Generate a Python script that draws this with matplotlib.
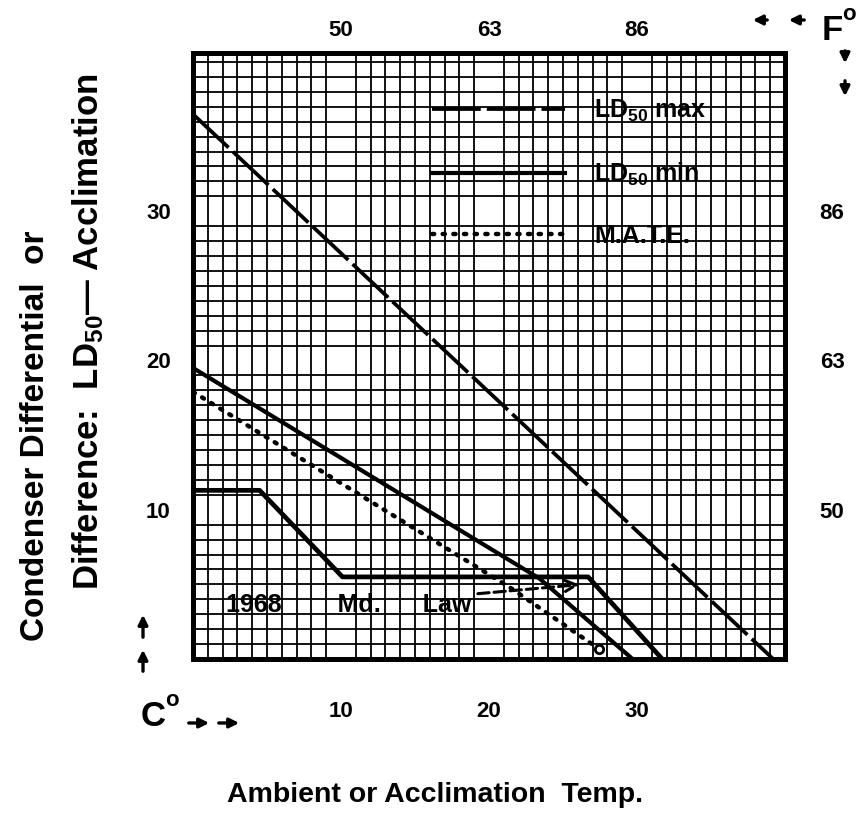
import matplotlib
matplotlib.use('Agg')
import matplotlib.pyplot as plt

# bold sans everywhere, also for the LD50 subscripts
plt.rcParams['font.family'] = ['Liberation Sans', 'DejaVu Sans']
plt.rcParams['font.weight'] = 'bold'
plt.rcParams['mathtext.fontset'] = 'custom'
plt.rcParams['mathtext.rm'] = 'Liberation Sans:bold'
plt.rcParams['mathtext.bf'] = 'Liberation Sans:bold'
plt.rcParams['mathtext.it'] = 'Liberation Sans:bold'

# values (x = ambient / acclimation temp, C)
ld50_max_x = [0, 39.2]
ld50_max_y = [36.5, 0]
ld50_min_x = [0, 23.4, 29.7]
ld50_min_y = [19.5, 5.4, 0]
mate_x = [0, 21.4, 27.4]
mate_y = [17.9, 4.8, 0.7]
law_x = [0, 4.5, 10.1, 26.7, 31.7]
law_y = [11.3, 11.3, 5.5, 5.5, 0]

c_ticks = [10, 20, 30]
c_labels = ['10', '20', '30']
f_top_labels = ['50', '63', '86']
diff_ticks = [10, 20, 30]
diff_labels = ['10', '20', '30']
f_right_labels = ['50', '63', '86']

W, H = 861, 830
fig = plt.figure(figsize=(W / 100, H / 100), dpi=100)
ax = fig.add_axes([193 / W, 1 - 659 / H, 592 / W, 606 / H])

ax.set_xlim(0, 40)
ax.set_ylim(0, 40.6)

# graph paper: a line on every unit
ax.set_xticks(range(0, 41), minor=True)
ax.set_yticks(range(0, 41), minor=True)
ax.grid(which='minor', color='black', lw=1.3)
ax.set_axisbelow(True)
for s in ax.spines.values():
    s.set_linewidth(3.6)

ax.set_xticks(c_ticks)
ax.set_xticklabels(c_labels)
ax.set_yticks(diff_ticks)
ax.set_yticklabels(diff_labels)
ax.tick_params(which='both', length=0)
ax.tick_params(axis='x', pad=30, labelsize=16)
ax.tick_params(axis='y', pad=16, labelsize=16)

# Fahrenheit labels on top and right
ax_top = ax.twiny()
ax_top.set_xlim(ax.get_xlim())
ax_top.set_xticks(c_ticks)
ax_top.set_xticklabels(f_top_labels)
ax_top.tick_params(length=0, pad=9, labelsize=16)
ax_right = ax.twinx()
ax_right.set_ylim(ax.get_ylim())
ax_right.set_yticks(diff_ticks)
ax_right.set_yticklabels(f_right_labels)
ax_right.tick_params(length=0, pad=25, labelsize=16)
for a in (ax_top, ax_right):
    for s in a.spines.values():
        s.set_visible(False)

# curves
ax.plot(ld50_max_x, ld50_max_y, color='black', lw=2.7, dashes=(13, 1.6),
        label='LD$_{50}$ max', solid_capstyle='butt')
ax.plot(ld50_min_x, ld50_min_y, color='black', lw=3, label='LD$_{50}$ min')
ax.plot(mate_x, mate_y, color='black', lw=3.2, dashes=(0.5, 1.9),
        dash_capstyle='round', label='M.A.T.E.')
ax.plot(mate_x[-1], mate_y[-1], 'o', ms=6, mfc='white', mec='black', mew=2,
        clip_on=False)
ax.plot(law_x, law_y, color='black', lw=3.4)

ax.annotate('1968        Md.      Law', xy=(26.3, 5.0), xytext=(2.2, 3.6),
            ha='left', va='center', fontsize=18,
            arrowprops=dict(arrowstyle='->', color='black', lw=2.2,
                            linestyle='--', mutation_scale=20, shrinkA=3))

ax.legend(loc='upper left', bbox_to_anchor=(432 / W, 1 - 98 / H),
          bbox_transform=fig.transFigure, frameon=False, borderpad=0,
          borderaxespad=0, handlelength=5.3, handletextpad=1.2,
          labelspacing=1.45, prop={'size': 18, 'weight': 'bold'})

# axis titles
fig.text(36 / W, 1 - 436 / H, 'Condenser Differential  or', rotation=90,
         ha='center', va='center', fontsize=24)
fig.text(88 / W, 1 - 332 / H, 'Difference:  LD$_{50}$— Acclimation',
         rotation=90, ha='center', va='center', fontsize=25)
fig.text(435 / W, 1 - 795 / H, 'Ambient or Acclimation  Temp.',
         ha='center', va='center', fontsize=20.5)

# unit markers with their little arrows
fig.text(153 / W, 1 - 716 / H, 'C', ha='center', va='center', fontsize=25)
fig.text(172 / W, 1 - 700 / H, 'o', ha='center', va='center', fontsize=16)
fig.text(832 / W, 1 - 30 / H, 'F', ha='center', va='center', fontsize=25)
fig.text(849 / W, 1 - 14 / H, 'o', ha='center', va='center', fontsize=16)


def arrow(x0, y0, x1, y1):
    fig.add_artist(matplotlib.patches.FancyArrowPatch(
        (x0 / W, 1 - y0 / H), (x1 / W, 1 - y1 / H), transform=fig.transFigure,
        arrowstyle='-|>', mutation_scale=14, lw=2.4, color='black'))


arrow(143, 640, 143, 612)
arrow(143, 674, 143, 647)
arrow(186, 723, 212, 723)
arrow(216, 723, 242, 723)
arrow(770, 20, 750, 20)
arrow(807, 20, 786, 20)
arrow(845, 48, 845, 66)
arrow(845, 78, 845, 99)

fig.savefig('out.png', dpi=100)
